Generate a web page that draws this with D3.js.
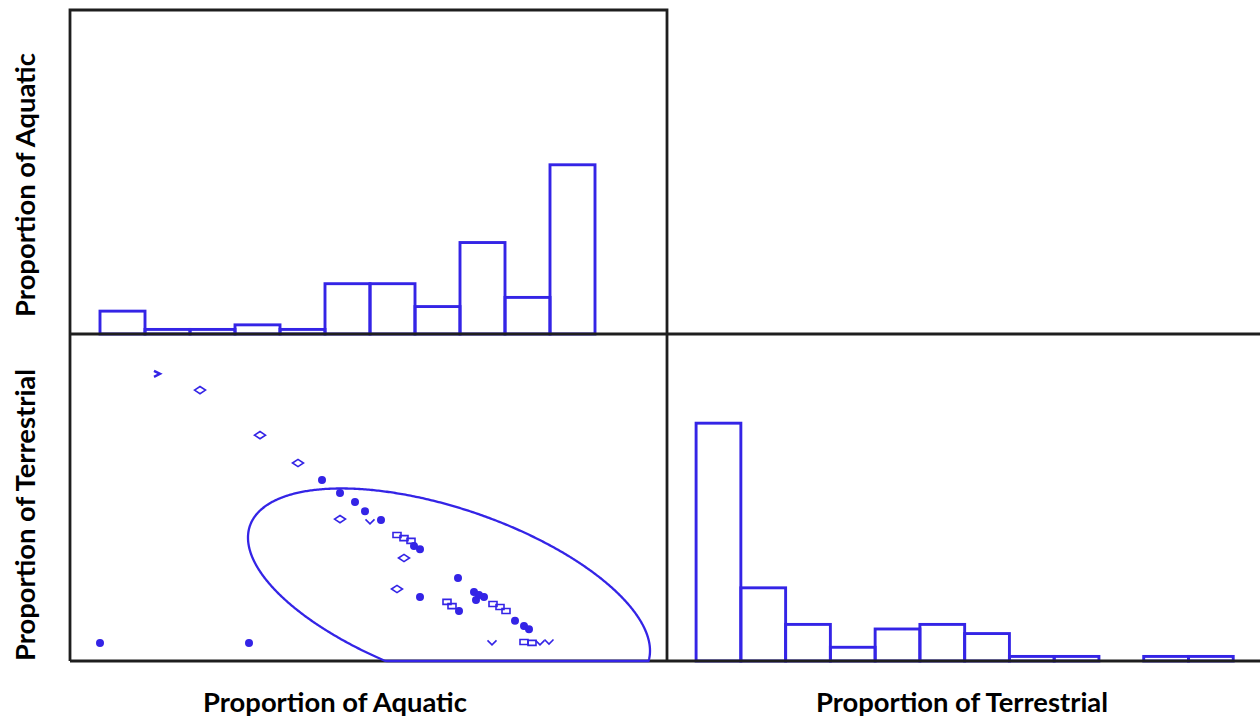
<!DOCTYPE html>
<html>
<head>
<meta charset="utf-8">
<script src="https://cdn.jsdelivr.net/npm/d3@7"></script>
<style>
html, body { margin: 0; padding: 0; background: #fff; }
svg { display: block; }
</style>
</head>
<body>
<svg id="chart" width="1260" height="719"></svg>
<script>
// ---------------- DATA ----------------
const variableNames = ["Proportion of Aquatic", "Proportion of Terrestrial"];

// Histogram of Proportion of Aquatic (bin edges and counts)
const aquaticBinEdges = [0, 0.09, 0.18, 0.27, 0.36, 0.45, 0.54, 0.63, 0.72, 0.81, 0.90, 0.99];
const aquaticCounts   = [5, 1, 1, 2, 1, 11, 11, 6, 20, 8, 37];

// Histogram of Proportion of Terrestrial
const terrestrialBinEdges = [0, 0.08, 0.16, 0.24, 0.32, 0.40, 0.48, 0.56, 0.64, 0.72, 0.80, 0.88, 0.96];
const terrestrialCounts   = [52, 16, 8, 3, 7, 8, 6, 1, 1, 0, 1, 1];

// Scatter points (visible, overplotted points)
const pointAquatic = [0.114, 0.200, 0.320, 0.396, 0.444, 0.480, 0.510, 0.530, 0.480, 0.540,
                      0.562, 0.594, 0.608, 0.622, 0.628, 0.640, 0.608, 0.716, 0.594, 0.640,
                      0.694, 0.704, 0.718, 0.748, 0.758, 0.768, 0.752, 0.786, 0.800, 0.812,
                      0.830, 0.848, 0.858, 0.784, 0.848, 0.864, 0.880, 0.898, 0.000, 0.298];
const pointTerrestrial = [0.885, 0.832, 0.685, 0.594, 0.539, 0.496, 0.467, 0.437, 0.411, 0.402,
                          0.408, 0.359, 0.349, 0.340, 0.323, 0.313, 0.284, 0.219, 0.183, 0.157,
                          0.141, 0.127, 0.111, 0.173, 0.163, 0.157, 0.147, 0.134, 0.124, 0.111,
                          0.079, 0.062, 0.052, 0.007, 0.010, 0.007, 0.007, 0.010, 0.007, 0.007];
const pointMarker = ["arrow", "diamond", "diamond", "diamond", "dot", "dot", "dot", "dot", "diamond", "vee",
                     "dot", "square", "square", "square", "dot", "dot", "diamond", "dot", "diamond", "dot",
                     "square", "square", "dot", "dot", "dot", "dot", "dot", "square", "square", "square",
                     "dot", "dot", "dot", "vee", "square", "square", "vee", "vee", "dot", "dot"];

// Prediction ellipse (center, half extents along each variable, correlation)
const ellipseCenter = [0.698, 0.166];
const ellipseHalfExtent = [0.402, 0.345];
const ellipseCorrelation = -0.535;

// ---------------- LAYOUT ----------------
const W = 1260, H = 719;
const panelLeft = 70, colW = 597;
const panelTop = 10, midY = 334, panelBottom = 661;
const blue = "#3424e6";
const borderColor = "#1e1e1e";

const svg = d3.select("#chart");

// Scales
const xAq = d3.scaleLinear().domain([-0.06, 1.134]).range([panelLeft, panelLeft + colW]);
const xTe = d3.scaleLinear().domain([-0.052, 1.015]).range([panelLeft + colW, panelLeft + 2 * colW]);
const yTe = d3.scaleLinear().domain([-0.052, 1.015]).range([panelBottom, midY]);
const yCountTop = d3.scaleLinear().domain([0, 71.5]).range([midY, midY - (panelBottom - midY)]);
const yCountBot = d3.scaleLinear().domain([0, 71.5]).range([panelBottom, midY]);

// ---------------- HISTOGRAMS ----------------
function drawHist(edges, counts, xs, ys) {
  const bins = counts.map((c, i) => ({x0: edges[i], x1: edges[i + 1], c}));
  svg.append("g")
    .selectAll("rect")
    .data(bins.filter(b => b.c > 0))
    .join("rect")
    .attr("x", d => xs(d.x0))
    .attr("width", d => xs(d.x1) - xs(d.x0))
    .attr("y", d => ys(d.c))
    .attr("height", d => ys(0) - ys(d.c))
    .attr("fill", "none")
    .attr("stroke", blue)
    .attr("stroke-width", 2.9);
}
drawHist(aquaticBinEdges, aquaticCounts, xAq, yCountTop);
drawHist(terrestrialBinEdges, terrestrialCounts, xTe, yCountBot);

// ---------------- PANEL BORDERS ----------------
const borders = svg.append("g").attr("stroke", borderColor).attr("stroke-width", 2.8).attr("fill", "none");
borders.append("path").attr("d", `M${panelLeft},${panelBottom}V${panelTop}H${panelLeft + colW}V${panelBottom}`);
borders.append("line").attr("x1", panelLeft).attr("x2", W).attr("y1", midY).attr("y2", midY);
borders.append("line").attr("x1", panelLeft).attr("x2", W).attr("y1", panelBottom).attr("y2", panelBottom);

// ---------------- ELLIPSE ----------------
const phi = Math.acos(ellipseCorrelation);
const ellPts = d3.range(0, 721).map(i => {
  const th = i * Math.PI / 360;
  const a = ellipseCenter[0] + ellipseHalfExtent[0] * Math.cos(th);
  const t = ellipseCenter[1] + ellipseHalfExtent[1] * Math.cos(th + phi);
  return [a, Math.max(yTe.domain()[0], t)];
});
svg.append("path")
  .attr("d", d3.line().x(d => xAq(d[0])).y(d => yTe(d[1]))(ellPts))
  .attr("fill", "none")
  .attr("stroke", blue)
  .attr("stroke-width", 2.3);

// ---------------- MARKERS ----------------
const markerTypes = {
  dot: {draw(ctx) { ctx.moveTo(3.2, 0); ctx.arc(0, 0, 3.2, 0, 2 * Math.PI); }},
  diamond: {draw(ctx) { ctx.moveTo(-5.5, 0); ctx.lineTo(0, -3.6); ctx.lineTo(5.5, 0); ctx.lineTo(0, 3.6); ctx.closePath(); }},
  square: {draw(ctx) { ctx.moveTo(-4, -2.5); ctx.lineTo(4, -2.5); ctx.lineTo(4, 2.5); ctx.lineTo(-4, 2.5); ctx.closePath(); }},
  vee: {draw(ctx) { ctx.moveTo(-4.5, -2.5); ctx.lineTo(0, 2); ctx.lineTo(4.5, -2.5); }},
  arrow: {draw(ctx) { ctx.moveTo(-3, -3); ctx.lineTo(3, 0); ctx.lineTo(-3, 3); }}
};
const filledMarkers = new Set(["dot"]);
const pts = pointAquatic.map((a, i) => ({a, t: pointTerrestrial[i], m: pointMarker[i]}));
svg.append("g")
  .selectAll("path")
  .data(pts)
  .join("path")
  .attr("transform", d => `translate(${xAq(d.a)},${yTe(d.t)})`)
  .attr("d", d => d3.symbol().type(markerTypes[d.m])())
  .attr("fill", d => filledMarkers.has(d.m) ? blue : "none")
  .attr("stroke", blue)
  .attr("stroke-width", d => d.m === "arrow" ? 2.4 : 1.6);

// ---------------- LABELS ----------------
const labelFont = "Lato, 'Open Sans', 'Noto Sans', sans-serif";
const labels = svg.append("g")
  .attr("font-family", labelFont)
  .attr("font-weight", 700)
  .attr("font-size", 24)
  .attr("fill", "#000")
  .attr("text-anchor", "middle");

const bottomLabels = labels.selectAll("text.b")
  .data([
    {txt: variableNames[0], x: 335, y: 712},
    {txt: variableNames[1], x: 962, y: 712}
  ])
  .join("text")
  .attr("class", "b")
  .attr("x", d => d.x).attr("y", d => d.y)
  .text(d => d.txt);

labels.selectAll("text.s")
  .data([
    {txt: variableNames[0], x: 35, y: 185},
    {txt: variableNames[1], x: 35, y: 515}
  ])
  .join("text")
  .attr("class", "s")
  .attr("transform", d => `translate(${d.x},${d.y}) rotate(-90)`)
  .text(d => d.txt);

// fit font size so that "Proportion of Aquatic" is ~264px wide
const measured = bottomLabels.nodes()[0].getComputedTextLength();
const fs = 24 * 264 / measured;
labels.attr("font-size", fs);
</script>
</body>
</html>
